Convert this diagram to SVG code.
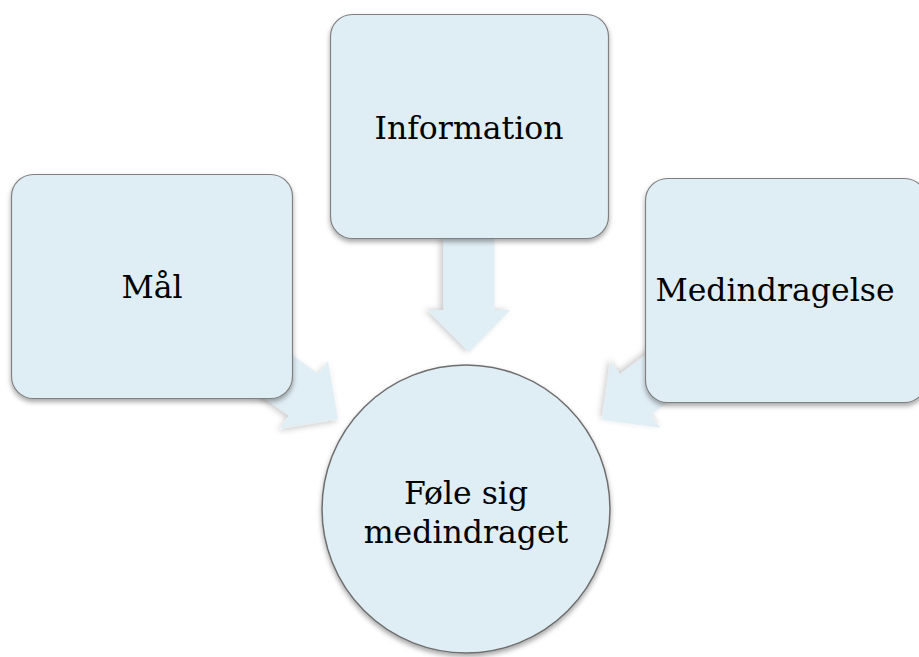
<svg xmlns="http://www.w3.org/2000/svg" width="919" height="657" viewBox="0 0 919 657">
<defs>
<filter id="sh" x="-20%" y="-20%" width="140%" height="140%">
<feDropShadow dx="0" dy="3" stdDeviation="2.5" flood-color="#000" flood-opacity="0.35"/>
</filter>
<filter id="ash" x="-30%" y="-30%" width="160%" height="160%">
<feDropShadow dx="0" dy="3" stdDeviation="3" flood-color="#000" flood-opacity="0.22"/>
</filter>
<polygon id="arrow" points="-114,-25.5 -42,-25.5 -42,-41.5 0,0 -42,41.5 -42,25.5 -114,25.5"/>
</defs>
<style>
.box{fill:#dfeef5;stroke:#808080;stroke-width:1.2;filter:url(#sh)}
.arr{fill:#e0eef5;filter:url(#ash)}
.t{font-family:"DejaVu Serif","Liberation Serif",serif;font-size:31.5px;fill:#000;text-anchor:middle}
</style>
<rect width="919" height="657" fill="#fff"/>
<g id="connectors">
<use href="#arrow" class="arr" transform="translate(469,352) rotate(90)"/>
<use href="#arrow" class="arr" transform="translate(338,419) rotate(35.5)"/>
<use href="#arrow" class="arr" transform="translate(602,420) rotate(143)"/>
</g>
<g id="mal">
<rect class="box" x="11.5" y="174.5" width="281" height="224" rx="22"/>
<text class="t" x="152" y="298">Mål</text>
</g>
<g id="information">
<rect class="box" x="330.5" y="14.5" width="278" height="224" rx="22"/>
<text class="t" x="469" y="139">Information</text>
</g>
<g id="medindragelse">
<rect class="box" x="645.5" y="178.5" width="281" height="224" rx="22"/>
<text class="t" x="775" y="301">Medindragelse</text>
</g>
<g id="fole">
<circle cx="466" cy="509" r="144" fill="#dfeef5" stroke="#6e6e6e" stroke-width="1.5" filter="url(#sh)"/>
<text class="t" x="466" y="504">Føle sig</text>
<text class="t" x="466" y="543">medindraget</text>
</g>
</svg>
